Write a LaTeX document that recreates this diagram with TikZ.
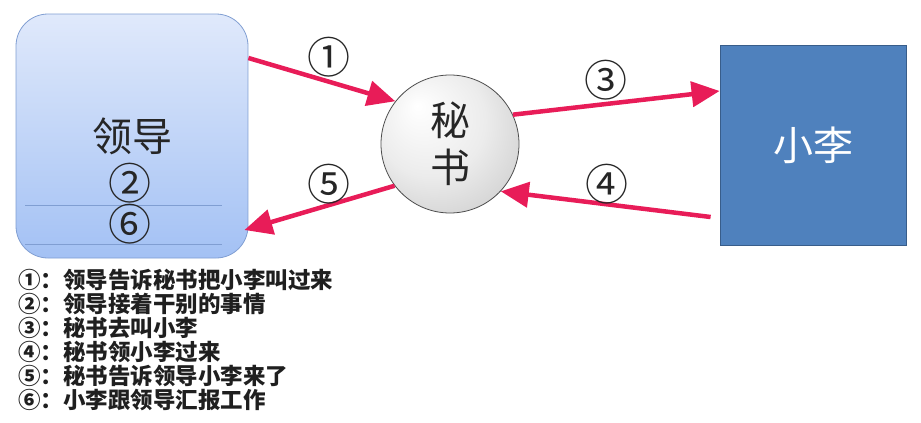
\documentclass[tikz,border=0pt]{standalone}
\usepackage{fontspec}
\setmainfont{Noto Sans CJK SC}
\usepackage{xcolor}
\usepackage{tikz}
\usetikzlibrary{arrows.meta,positioning,shadings}
\definecolor{flowred}{RGB}{232,28,88}
\definecolor{leadtop}{RGB}{224,233,251}
\definecolor{leadbot}{RGB}{163,193,244}
\definecolor{leadedge}{RGB}{128,158,210}
\definecolor{lirfill}{RGB}{79,129,189}
\definecolor{liredge}{RGB}{56,93,138}
\pgfdeclareradialshading{secball}{\pgfpoint{-12bp}{14bp}}{%
  color(0bp)=(white); color(20bp)=(gray!15); color(50bp)=(gray!58)}

\begin{document}
\begin{tikzpicture}[x=1pt,y=-1pt,
      boss/.style={draw=leadedge,thick,rounded corners=32pt,top color=leadtop,bottom color=leadbot,
        minimum width=232pt,minimum height=244pt,inner sep=0pt,font=\fontsize{40}{44}\selectfont,text=black!85},
      sec/.style={circle,draw=black!70,thick,shading=secball,minimum size=138pt,inner sep=0pt,
        align=center,font=\fontsize{40}{47}\selectfont,text=black!85},
      worker/.style={draw=liredge,thick,fill=lirfill,minimum width=186pt,minimum height=200pt,
        inner sep=0pt,font=\fontsize{40}{44}\selectfont,text=white},
      flow/.style={flowred,line width=4.5pt,-{Triangle[length=28pt,width=25pt]}},
      num/.style={font=\fontsize{43}{45}\selectfont,text=black!85,inner sep=0pt},
      note/.style={anchor=north west,align=left,inner sep=0pt,font=\fontsize{22.5}{24}\selectfont\bfseries}
    ]
      \useasboundingbox (0,0) rectangle (921,423);
      % the three people
      \node[boss] (leader) at (132,136) {领导};
      \node[sec] (secr) at (450,144) {秘\\书};
      \node[worker] (xiaoli) at (813,145) {小李};
      % steps inside the leader box
      \draw[leadedge,thin] (25,205) -- (222,205);
      \draw[leadedge,thin] (25,244) -- (222,244);
      \node[num] (n2) at (130,183) {②};
      \node[num] (n6) at (130,224) {⑥};
      % arrows
      \draw[flow] ([yshift=78pt]leader.east) -- (secr.142);
      \draw[flow] (secr.25) -- ([yshift=54pt]xiaoli.west);
      \draw[flow] ([xshift=-9pt,yshift=-72pt]xiaoli.west) -- (secr.317);
      \draw[flow] (secr.217) -- ([xshift=-4pt,yshift=-94pt]leader.east);
      \node[num] (n1) at (329,57) {①};
      \node[num] (n3) at (606,80) {③};
      \node[num] (n4) at (607,184) {④};
      \node[num] (n5) at (329,184) {⑤};
      % legend
      \node[note,text=black!88] (legend) at (18,269) {①：领导告诉秘书把小李叫过来\\②：领导接着干别的事情\\③：秘书去叫小李\\④：秘书领小李过来\\⑤：秘书告诉领导小李来了\\⑥：小李跟领导汇报工作};
    \end{tikzpicture}
\end{document}
